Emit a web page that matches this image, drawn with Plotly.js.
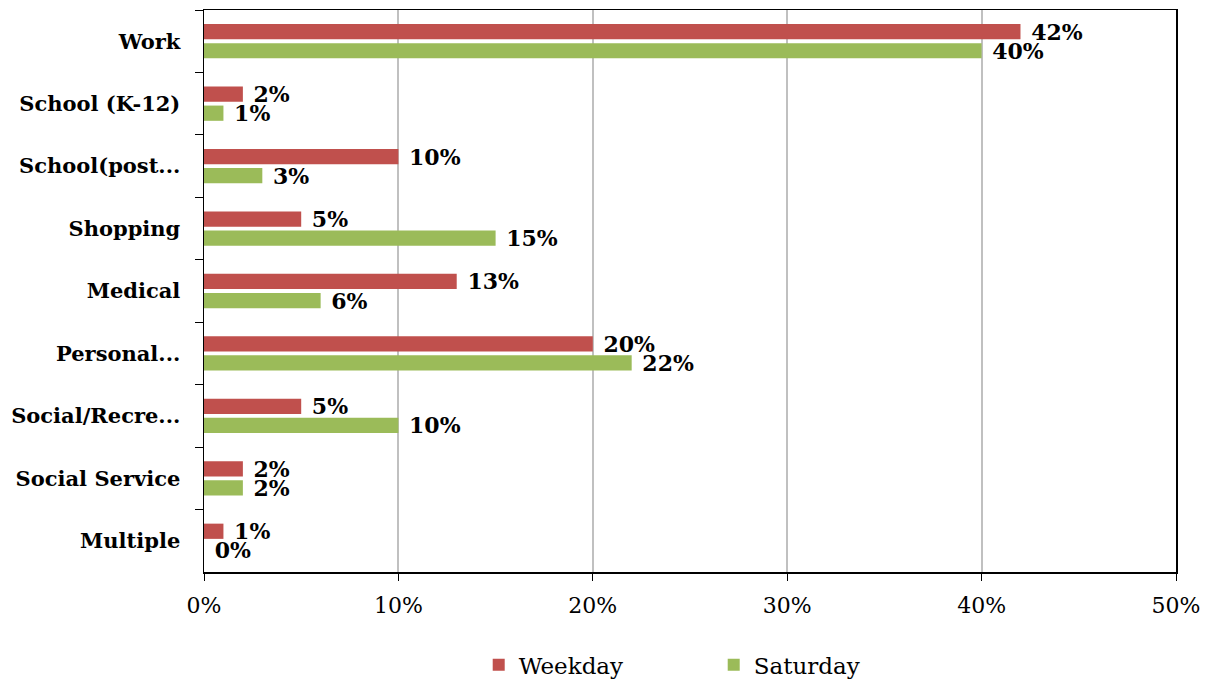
<!DOCTYPE html>
<html>
<head>
<meta charset="utf-8">
<script src="https://cdn.plot.ly/plotly-3.0.1.min.js"></script>
<style>
  html, body { margin: 0; padding: 0; background: #fff; }
  #chart { width: 1215px; height: 684px; }
</style>
</head>
<body>
<div id="chart"></div>
<script>
// Trip purposes, share of trips by day type
const categories = [
  "Work", "School (K-12)", "School(post...", "Shopping", "Medical",
  "Personal...", "Social/Recre...", "Social Service", "Multiple"
];
const weekday = [0.42, 0.02, 0.10, 0.05, 0.13, 0.20, 0.05, 0.02, 0.01];
const saturday = [0.40, 0.01, 0.03, 0.15, 0.06, 0.22, 0.10, 0.02, 0.00];
const xTickValues = [0, 0.1, 0.2, 0.3, 0.4, 0.5];
const xTickLabels = ["0%", "10%", "20%", "30%", "40%", "50%"];

const serif = "DejaVu Serif, Liberation Serif, serif";
const labelFont = { family: serif, size: 22, color: "#000", weight: "bold" };

function series(name, values, color) {
  return {
    type: "bar",
    orientation: "h",
    name: name,
    x: values,
    y: categories,
    marker: { color: color },
    // a non-breaking space keeps the value labels clear of the bar ends
    text: values.map(v => "\u00a0" + Math.round(v * 100) + "%"),
    textposition: "outside",
    textfont: labelFont,
    constraintext: "none",
    cliponaxis: false,
    hoverinfo: "x+y+name"
  };
}

const data = [
  series("Weekday", weekday, "#C0504D"),
  series("Saturday", saturday, "#9BBB59")
];

const layout = {
  width: 1215,
  height: 684,
  paper_bgcolor: "#fff",
  plot_bgcolor: "#fff",
  margin: { l: 204, r: 39, t: 10, b: 112 },
  barmode: "group",
  bargap: 0.39,
  bargroupgap: 0.2,
  showlegend: true,
  legend: {
    orientation: "h",
    xref: "container", yref: "container",
    x: 0.394, xanchor: "left",
    y: 0.028, yanchor: "middle",
    traceorder: "normal",
    font: { family: serif, size: 23, color: "#000" },
    entrywidth: 190,
    entrywidthmode: "pixels",
    itemwidth: 30
  },
  xaxis: {
    range: [0, 0.5],
    tickvals: xTickValues,
    ticktext: xTickLabels,
    showgrid: true,
    gridcolor: "#c0c0c0",
    gridwidth: 2,
    zeroline: false,
    showline: true,
    linecolor: "#000",
    linewidth: 1.5,
    mirror: true,
    ticks: "outside",
    ticklen: 7,
    tickcolor: "#000",
    ticklabelstandoff: 6,
    tickfont: { family: serif, size: 22, color: "#000" },
    fixedrange: true
  },
  yaxis: {
    type: "category",
    autorange: "reversed",
    showgrid: false,
    zeroline: false,
    showline: true,
    linecolor: "#000",
    linewidth: 1.5,
    mirror: true,
    ticks: "outside",
    tickson: "boundaries",
    ticklen: 8,
    tickcolor: "#000",
    ticklabelstandoff: 18,
    tickfont: { family: serif, size: 21, color: "#000", weight: "bold" },
    fixedrange: true
  }
};

Plotly.newPlot("chart", data, layout, { displayModeBar: false, staticPlot: true });
</script>
</body>
</html>
